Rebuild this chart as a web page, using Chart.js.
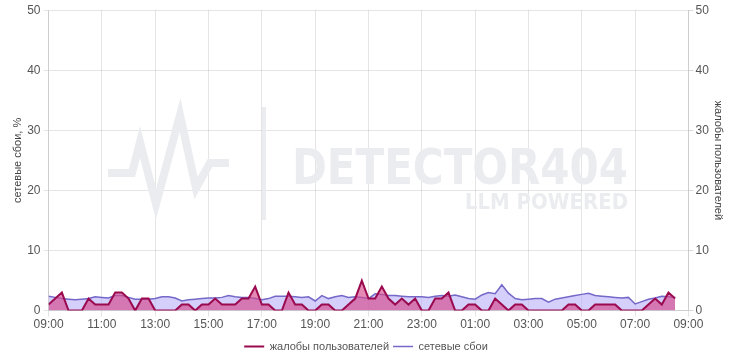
<!DOCTYPE html>
<html>
<head>
<meta charset="utf-8">
<script src="https://cdn.jsdelivr.net/npm/chart.js@4/dist/chart.umd.min.js"></script>
<style>
  html, body { margin: 0; padding: 0; background: #fff; }
  #wrap { width: 730px; height: 357px; }
</style>
</head>
<body>
<div id="wrap"><canvas id="grafico" width="730" height="357"></canvas></div>
<script>
// отсчёты каждые 15 минут, начиная с 09:00
const startMin = 9 * 60;
const stepMin = 15;

// жалобы пользователей (правая ось)
const zhaloby = [
  1, 2, 3, 0, 0, 0, 2, 1, 1, 1, 3, 3, 2, 0, 2, 2, 0, 0, 0, 0,
  1, 1, 0, 1, 1, 2, 1, 1, 1, 2, 2, 4, 1, 1, 0, 0, 3, 1, 1, 0,
  0, 1, 1, 0, 0, 1, 2, 5, 2, 2, 4, 2, 1, 2, 1, 2, 0, 0, 2, 2,
  3, 0, 0, 1, 1, 0, 0, 2, 1, 0, 1, 1, 0, 0, 0, 0, 0, 0, 1, 1,
  0, 0, 1, 1, 1, 1, 0, 0, 0, 0, 1, 2, 1, 3, 2
];

// сетевые сбои, % (левая ось)
const sboi = [
  2.4, 2.2, 2.0, 1.9, 1.8, 1.9, 2.0, 2.3, 2.2, 2.1, 2.5, 2.5, 2.2, 1.9, 1.9, 1.9, 2.0, 2.3, 2.3, 2.1,
  1.6, 1.8, 1.9, 2.0, 2.1, 2.1, 2.2, 2.5, 2.3, 2.2, 2.2, 2.0, 1.8, 2.0, 2.4, 2.4, 2.4, 2.3, 2.2, 2.3,
  1.6, 2.5, 2.0, 2.3, 2.5, 2.2, 2.3, 2.2, 2.0, 2.8, 2.7, 2.5, 2.5, 2.4, 2.3, 2.3, 2.3, 2.2, 2.4, 2.5,
  2.4, 2.6, 2.3, 2.0, 1.9, 2.6, 3.0, 2.8, 4.3, 2.9, 2.0, 1.8, 1.9, 2.0, 2.0, 1.4, 1.9, 2.1, 2.3, 2.5,
  2.7, 2.9, 2.5, 2.4, 2.3, 2.2, 2.1, 2.2, 1.1, 1.5, 1.9, 2.1, 2.4, 2.3, 2.2
];

const yTicks = [0, 10, 20, 30, 40, 50];

function toPoints(arr) {
    return arr.map((v, i) => ({ x: i * stepMin, y: v }));
}

function formatHora(min) {
    const total = (startMin + min) % 1440;
    const h = Math.floor(total / 60);
    const m = total % 60;
    return String(h).padStart(2, "0") + ":" + String(m).padStart(2, "0");
}

// фоновый водяной знак
const marcaDagua = {
    id: "marcaDagua",
    beforeDatasetsDraw(chart) {
        const ctx = chart.ctx;
        ctx.save();
        ctx.strokeStyle = "#ebecef";
        ctx.fillStyle = "#ebecef";
        ctx.lineWidth = 8;
        ctx.lineJoin = "miter";
        ctx.beginPath();
        ctx.moveTo(108, 173);
        ctx.lineTo(132, 173);
        ctx.lineTo(140, 142);
        ctx.lineTo(156, 204);
        ctx.lineTo(180, 115);
        ctx.lineTo(196, 188);
        ctx.lineTo(210, 163);
        ctx.lineTo(229, 163);
        ctx.stroke();
        ctx.lineWidth = 4;
        ctx.beginPath();
        ctx.moveTo(264, 107);
        ctx.lineTo(264, 220);
        ctx.stroke();
        ctx.font = "bold 49px 'DejaVu Sans'";
        ctx.textAlign = "right";
        ctx.textBaseline = "alphabetic";
        ctx.fillText("DETECTOR404", 628, 184, 336);
        ctx.font = "bold 21px 'DejaVu Sans'";
        ctx.fillText("LLM POWERED", 628, 209, 163);
        ctx.restore();
    }
};

new Chart(document.getElementById("grafico"), {
    type: "line",
    data: {
        datasets: [
            {
                label: "жалобы пользователей",
                data: toPoints(zhaloby),
                yAxisID: "y2",
                borderColor: "#9b0a4f",
                backgroundColor: "rgba(214, 72, 140, 0.65)",
                borderWidth: 2,
                pointRadius: 0,
                tension: 0,
                fill: "origin",
                order: 1
            },
            {
                label: "сетевые сбои",
                data: toPoints(sboi),
                yAxisID: "y",
                borderColor: "#7468c8",
                backgroundColor: "rgba(178, 168, 250, 0.55)",
                borderWidth: 1.5,
                pointRadius: 0,
                tension: 0,
                fill: "origin",
                order: 2
            }
        ]
    },
    options: {
        responsive: false,
        animation: false,
        layout: { padding: { left: 7, right: 5, top: 3, bottom: -5 } },
        plugins: {
            legend: {
                position: "bottom",
                labels: {
                    usePointStyle: true,
                    pointStyle: "line",
                    pointStyleWidth: 20,
                    boxHeight: 8,
                    color: "#555",
                    font: { family: "'Liberation Sans', Arial", size: 11 },
                    padding: 4
                }
            },
            tooltip: { enabled: false }
        },
        scales: {
            x: {
                type: "linear",
                min: 0,
                max: 1440,
                afterFit: s => { s.height += 4; },
                ticks: {
                    stepSize: 120,
                    color: "#555",
                    padding: 1,
                    font: { family: "'Liberation Sans', Arial", size: 12 },
                    callback: v => formatHora(v),
                    maxRotation: 0
                },
                grid: { color: "rgba(0,0,0,0.1)", tickLength: 6 }
            },
            y: {
                position: "left",
                min: 0,
                max: 50,
                afterBuildTicks: s => { s.ticks = yTicks.map(v => ({ value: v })); },
                ticks: { color: "#555", font: { family: "'Liberation Sans', Arial", size: 12 } },
                grid: { color: "rgba(0,0,0,0.1)", tickLength: 5 },
                title: {
                    display: true,
                    text: "сетевые сбои, %",
                    color: "#444",
                    padding: { top: 4, bottom: 0 },
                    font: { family: "'Liberation Sans', Arial", size: 11 }
                }
            },
            y2: {
                position: "right",
                min: 0,
                max: 50,
                afterBuildTicks: s => { s.ticks = yTicks.map(v => ({ value: v })); },
                ticks: { color: "#555", padding: 2, font: { family: "'Liberation Sans', Arial", size: 12 } },
                grid: { drawOnChartArea: false, color: "rgba(0,0,0,0.15)", tickLength: 5 },
                title: {
                    display: true,
                    text: "жалобы пользователей",
                    color: "#444",
                    padding: { top: 0, bottom: 1 },
                    font: { family: "'Liberation Sans', Arial", size: 11 }
                }
            }
        }
    },
    plugins: [marcaDagua]
});
</script>
</body>
</html>
